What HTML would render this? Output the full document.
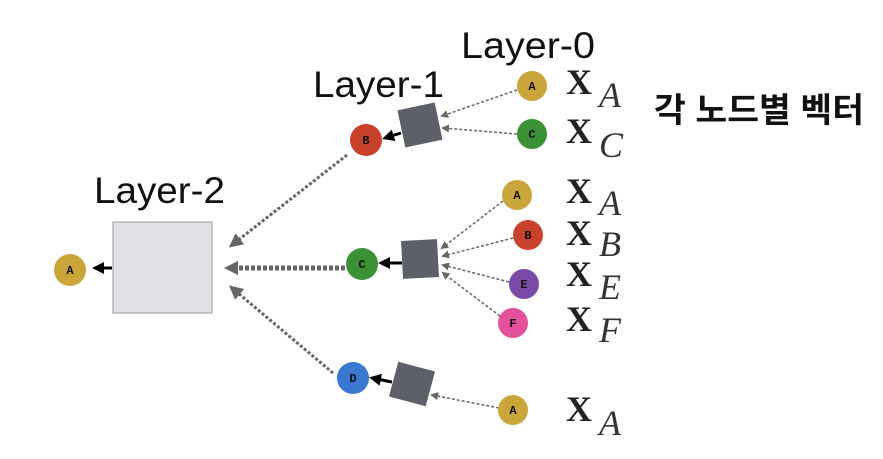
<!DOCTYPE html>
<html><head><meta charset="utf-8"><style>
html,body{margin:0;padding:0;background:#fff;}
svg{display:block}
.L{font-family:"Liberation Sans",sans-serif;font-size:37px;fill:#111}
.c{font-family:"Liberation Mono","DejaVu Sans Mono",monospace;font-weight:bold;font-size:12px;fill:#111;text-anchor:middle}
.X{font-family:"Liberation Serif",serif;font-weight:bold;font-size:36px;fill:#222}
.s{font-family:"Liberation Serif",serif;font-style:italic;font-size:36px;fill:#333}
</style></head><body>
<svg width="883" height="459" viewBox="0 0 883 459" xmlns="http://www.w3.org/2000/svg">
<defs>
<marker id="g" markerWidth="8" markerHeight="8" refX="6" refY="4" orient="auto" markerUnits="userSpaceOnUse"><path d="M0,0 L8,4 L0,8 z" fill="#666"/></marker>
<marker id="G" markerWidth="14" markerHeight="14" refX="10" refY="7" orient="auto" markerUnits="userSpaceOnUse"><path d="M0,0 L14,7 L0,14 z" fill="#666"/></marker>
<marker id="b" markerWidth="12" markerHeight="12" refX="9" refY="6" orient="auto" markerUnits="userSpaceOnUse"><path d="M0,0 L12,6 L0,12 z" fill="#000"/></marker>
</defs>
<text class="L" x="461" y="58" textLength="134" lengthAdjust="spacingAndGlyphs">Layer-0</text>
<text class="L" x="313" y="97" textLength="131" lengthAdjust="spacingAndGlyphs">Layer-1</text>
<text class="L" x="94" y="203" textLength="131" lengthAdjust="spacingAndGlyphs">Layer-2</text>
<text x="654" y="122" font-family="'Liberation Sans','Noto Sans CJK KR',sans-serif" font-weight="bold" font-size="34" fill="#111" textLength="210" lengthAdjust="spacingAndGlyphs">각 노드별 벡터</text>

<rect x="113" y="222" width="99" height="91" fill="#e2e2e6" stroke="#999" stroke-width="1"/>
<line x1="112" y1="268" x2="95" y2="268" stroke="#000" stroke-width="3" marker-end="url(#b)"/>
<circle cx="70" cy="270" r="16" fill="#c9a53a"/><text class="c" x="70" y="274">A</text>

<g stroke="#666" stroke-dasharray="3,2" fill="none">
<line x1="347" y1="155" x2="232" y2="245" stroke-width="3" marker-end="url(#G)"/>
<line x1="345" y1="268" x2="228" y2="268" stroke-width="5" stroke-dasharray="4,2" marker-end="url(#G)"/>
<line x1="333" y1="373" x2="232" y2="288" stroke-width="3" marker-end="url(#G)"/>
<g stroke-width="1.5">
<line x1="517" y1="90" x2="442" y2="116" marker-end="url(#g)"/>
<line x1="517" y1="134" x2="443" y2="128" marker-end="url(#g)"/>
<line x1="503" y1="201" x2="442" y2="248" marker-end="url(#g)"/>
<line x1="513" y1="238" x2="443" y2="256" marker-end="url(#g)"/>
<line x1="509" y1="282" x2="443" y2="265" marker-end="url(#g)"/>
<line x1="500" y1="316" x2="443" y2="273" marker-end="url(#g)"/>
<line x1="499" y1="408" x2="432" y2="395" marker-end="url(#g)"/>
</g></g>

<rect x="401" y="106" width="38" height="38" fill="#5d6068" transform="rotate(-12 420 125)"/>
<rect x="402" y="240" width="36" height="38" fill="#5d6068" transform="rotate(-3 420 259)"/>
<rect x="393" y="366" width="38" height="36" fill="#5d6068" transform="rotate(15 412 384)"/>

<g stroke="#000" stroke-width="3">
<line x1="401" y1="133" x2="385" y2="138" marker-end="url(#b)"/>
<line x1="402" y1="263" x2="381" y2="263" marker-end="url(#b)"/>
<line x1="392" y1="382" x2="372" y2="378" marker-end="url(#b)"/>
</g>

<circle cx="366" cy="140" r="16" fill="#c9412a"/><text class="c" x="366" y="144">B</text>
<circle cx="362" cy="264" r="16" fill="#3b9136"/><text class="c" x="362" y="268">C</text>
<circle cx="353" cy="378" r="16" fill="#3a77d0"/><text class="c" x="353" y="382">D</text>

<circle cx="532" cy="86" r="15" fill="#c9a53a"/><text class="c" x="532" y="90">A</text>
<circle cx="532" cy="134" r="15" fill="#3b9136"/><text class="c" x="532" y="138">C</text>
<circle cx="517" cy="195" r="15" fill="#c9a53a"/><text class="c" x="517" y="199">A</text>
<circle cx="528" cy="235" r="15" fill="#c9412a"/><text class="c" x="528" y="239">B</text>
<circle cx="524" cy="284" r="15" fill="#7a4aa8"/><text class="c" x="524" y="288">E</text>
<circle cx="513" cy="323" r="15" fill="#e4509a"/><text class="c" x="513" y="327">F</text>
<circle cx="513" cy="410" r="15" fill="#c9a53a"/><text class="c" x="513" y="414">A</text>

<text class="X" x="566" y="94">X</text><text class="s" x="599" y="107">A</text>
<text class="X" x="566" y="143">X</text><text class="s" x="599" y="157">C</text>
<text class="X" x="566" y="203">X</text><text class="s" x="599" y="215">A</text>
<text class="X" x="566" y="245">X</text><text class="s" x="599" y="256">B</text>
<text class="X" x="566" y="286">X</text><text class="s" x="599" y="299">E</text>
<text class="X" x="566" y="331">X</text><text class="s" x="599" y="342">F</text>
<text class="X" x="566" y="421">X</text><text class="s" x="599" y="435">A</text>
</svg>
</body></html>
